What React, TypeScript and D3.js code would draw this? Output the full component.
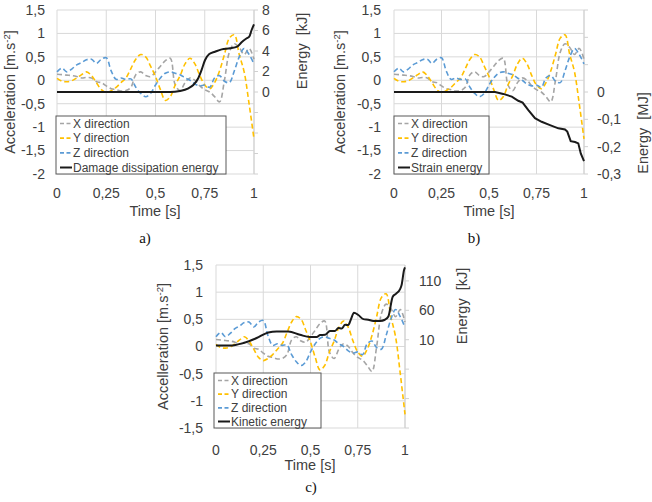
import * as d3 from "d3";
import { useEffect, useRef } from "react";

// Common time base of the three acceleration records [s]
const time = [
  0, 0.025, 0.05, 0.075, 0.1, 0.125, 0.15, 0.175, 0.2, 0.225, 0.25, 0.275, 0.3, 0.325,
  0.35, 0.375, 0.4, 0.425, 0.45, 0.475, 0.5, 0.525, 0.55, 0.575, 0.6, 0.625, 0.65, 0.675,
  0.7, 0.725, 0.75, 0.775, 0.8, 0.825, 0.85, 0.875, 0.9, 0.925, 0.95, 0.975, 1,
];

// Acceleration [m.s-2]
const accX = [
  0.13, 0.12, 0.11, 0.1, 0.08, 0.05, 0.06, 0.05, -0.03, -0.05, -0.12, -0.18, -0.2, -0.23,
  -0.22, -0.15, 0.12, 0.18, 0.1, 0.08, 0.18, 0.3, 0.42, 0.47, -0.1, -0.22, -0.05, 0.05,
  0.0, -0.12, -0.2, -0.25, -0.35, -0.46, 0.0, 0.6, 0.78, 0.7, 0.55, 0.68, 0.45,
];
const accY = [
  0.04, -0.02, -0.03, -0.01, 0.05, 0.12, 0.18, 0.1, -0.05, -0.2, -0.26, -0.22, -0.15, -0.05,
  0.05, 0.25, 0.45, 0.55, 0.5, 0.3, 0.08, -0.2, -0.43, -0.35, -0.1, 0.1, 0.35, 0.47,
  0.35, 0.1, -0.1, -0.18, -0.05, 0.2, 0.55, 0.9, 0.97, 0.55, 0.18, -0.5, -1.25,
];
const accZ = [
  0.18, 0.26, 0.18, 0.24, 0.33, 0.38, 0.44, 0.45, 0.36, 0.45, 0.48, 0.2, 0.02, 0.05,
  0.02, 0.03, -0.15, -0.28, -0.35, -0.28, -0.1, 0.05, 0.15, 0.18, 0.15, 0.12, 0.05, 0.0,
  -0.08, -0.12, -0.1, -0.15, 0.05, 0.1, -0.02, -0.05, 0.2, 0.5, 0.68, 0.55, 0.35,
];

// Damage dissipation energy [kJ]
const damageTime = [
  0, 0.2, 0.4, 0.574, 0.624, 0.667, 0.692, 0.717, 0.734, 0.751, 0.773, 0.802, 0.836,
  0.878, 0.915, 0.937, 0.963, 0.976, 0.988, 1,
];
const damageEnergy = [
  0, 0, 0, 0, 0.1, 0.36, 0.68, 1.34, 2.15, 3.1, 3.7, 3.93, 4.16, 4.26, 4.42, 4.85, 5.24,
  5.4, 6.05, 6.6,
];

// Strain energy [MJ]
const strainTime = [
  0, 0.532, 0.575, 0.62, 0.654, 0.677, 0.707, 0.742, 0.777, 0.821, 0.865, 0.9, 0.912,
  0.93, 0.953, 0.97, 0.983, 1,
];
const strainEnergy = [
  0, 0, -0.007, -0.017, -0.032, -0.039, -0.066, -0.096, -0.109, -0.121, -0.133, -0.137,
  -0.145, -0.18, -0.183, -0.188, -0.225, -0.253,
];

// Kinetic energy [kJ]
const kineticTime = [
  0, 0.074, 0.145, 0.215, 0.277, 0.321, 0.383, 0.444, 0.497, 0.533, 0.551, 0.577, 0.603,
  0.63, 0.647, 0.665, 0.683, 0.7, 0.713, 0.73, 0.753, 0.78, 0.806, 0.832, 0.868, 0.894,
  0.912, 0.935, 0.952, 0.974, 0.982, 0.995, 1,
];
const kineticEnergy = [
  0, 0, 4.4, 12.9, 22.4, 24, 24, 18.5, 14.6, 14.6, 18, 18.5, 25, 25, 29.8, 29, 35.4, 35,
  44, 56, 52, 45, 44, 42, 42, 44, 49.5, 83, 88, 96, 103, 128.6, 133,
];

// Axis ticks
const timeTicks = [0, 0.25, 0.5, 0.75, 1];
const accTicksAB = [-2, -1.5, -1, -0.5, 0, 0.5, 1, 1.5];
const accTicksC = [-1.5, -1, -0.5, 0, 0.5, 1, 1.5];
const damageTicks = [-8, -6, -4, -2, 0, 2, 4, 6, 8];
const damageLabels = [0, 2, 4, 6, 8];
const strainTicks = [-0.3, -0.2, -0.1, 0, 0.1, 0.2, 0.3];
const strainLabels = [-0.3, -0.2, -0.1, 0];
const kineticTicks = [-140, -90, -40, 10, 60, 110];
const kineticLabels = [10, 60, 110];

const seriesNames = ["X direction", "Y direction", "Z direction"];
const seriesColors = ["#a5a5a5", "#ffc000", "#5b9bd5"];

const FONT = "'Liberation Sans', Arial, sans-serif";
const TEXT = "#404040";

const fmt = (d: number) => String(d).replace(".", ",");

const panels = [
  {
    plot: { left: 57, right: 254, top: 10, bottom: 174 },
    accDomain: [-2, 1.5], accTicks: accTicksAB,
    eDomain: [-8, 8], eTicks: damageTicks, eLabels: damageLabels,
    eTime: damageTime, eValues: damageEnergy, eCurve: d3.curveMonotoneX,
    accTitle: "Acceleration", eTitle: "Energy  [kJ]",
    legendName: "Damage dissipation energy",
    legend: { x: 56, y: 116, w: 170, h: 58 },
    leftLabelX: 45, leftTitleX: 10, rightLabelX: 262, rightTitle: { x: 301.5, y: 51 },
    xLabelY: 198, timeTitle: { x: 155, y: 216 }, caption: { text: "a)", x: 145, y: 243 },
  },
  {
    plot: { left: 394, right: 584, top: 10, bottom: 174 },
    accDomain: [-2, 1.5], accTicks: accTicksAB,
    eDomain: [-0.3, 0.3], eTicks: strainTicks, eLabels: strainLabels,
    eTime: strainTime, eValues: strainEnergy, eCurve: d3.curveLinear,
    accTitle: "Acceleration", eTitle: "Energy  [MJ]",
    legendName: "Strain energy",
    legend: { x: 394, y: 116, w: 95, h: 58 },
    leftLabelX: 381, leftTitleX: 339.5, rightLabelX: 597, rightTitle: { x: 643, y: 133 },
    xLabelY: 198, timeTitle: { x: 489, y: 216 }, caption: { text: "b)", x: 474, y: 243 },
  },
  {
    plot: { left: 216, right: 405, top: 265, bottom: 428 },
    accDomain: [-1.5, 1.5], accTicks: accTicksC,
    eDomain: [-140, 137], eTicks: kineticTicks, eLabels: kineticLabels,
    eTime: kineticTime, eValues: kineticEnergy, eCurve: d3.curveMonotoneX,
    accTitle: "Accelleration", eTitle: "Energy  [kJ]",
    legendName: "Kinetic energy",
    legend: { x: 214, y: 373, w: 107, h: 55 },
    leftLabelX: 203, leftTitleX: 163, rightLabelX: 419, rightTitle: { x: 461.5, y: 306 },
    xLabelY: 455, timeTitle: { x: 310, y: 470 }, caption: { text: "c)", x: 311, y: 492 },
  },
];

const Panel = ({ cfg }: { cfg: any }) => {
  const ref = useRef<SVGGElement>(null);

  useEffect(() => {
    const g = d3.select(ref.current);
    g.selectAll("*").remove();
    const { left, right, top, bottom } = cfg.plot;

    const x = d3.scaleLinear().domain([0, 1]).range([left, right]);
    const y = d3.scaleLinear().domain(cfg.accDomain).range([bottom, top]);
    const yE = d3.scaleLinear().domain(cfg.eDomain).range([bottom, top]);

    // Gridlines
    g.append("g").selectAll("line").data(cfg.accTicks).join("line")
      .attr("x1", left).attr("x2", right)
      .attr("y1", (d: any) => y(d)).attr("y2", (d: any) => y(d))
      .attr("stroke", "#d9d9d9").attr("stroke-width", 1);
    g.append("g").selectAll("line").data(timeTicks).join("line")
      .attr("x1", d => x(d)).attr("x2", d => x(d))
      .attr("y1", top).attr("y2", bottom)
      .attr("stroke", "#d9d9d9").attr("stroke-width", 1);

    // Secondary axis line with outward ticks
    g.append("line")
      .attr("x1", right).attr("x2", right).attr("y1", top).attr("y2", bottom)
      .attr("stroke", "#d0d0d0");
    g.append("g").selectAll("line").data(cfg.eTicks).join("line")
      .attr("x1", right).attr("x2", right + 4)
      .attr("y1", (d: any) => yE(d)).attr("y2", (d: any) => yE(d))
      .attr("stroke", "#d0d0d0");

    // Tick labels
    g.append("g").selectAll("text").data(cfg.accTicks).join("text")
      .attr("x", cfg.leftLabelX).attr("y", (d: any) => y(d))
      .attr("dy", "0.35em").attr("text-anchor", "end")
      .text((d: any) => fmt(d));
    g.append("g").selectAll("text").data(cfg.eLabels).join("text")
      .attr("x", cfg.rightLabelX).attr("y", (d: any) => yE(d))
      .attr("dy", "0.35em").attr("text-anchor", "start")
      .text((d: any) => fmt(d));
    g.append("g").selectAll("text").data(timeTicks).join("text")
      .attr("x", d => x(d)).attr("y", cfg.xLabelY)
      .attr("text-anchor", "middle")
      .text(d => fmt(d));

    // Axis titles
    const accTitle = g.append("text")
      .attr("transform", `translate(${cfg.leftTitleX},${(top + bottom) / 2}) rotate(-90)`)
      .attr("dy", "0.35em").attr("text-anchor", "middle")
      .style("font-size", "14.5px");
    accTitle.append("tspan").text(`${cfg.accTitle} [m.s`);
    accTitle.append("tspan").attr("dy", "-5").style("font-size", "9.5px").text("-2");
    accTitle.append("tspan").attr("dy", "5").text("]");

    g.append("text")
      .attr("transform", `translate(${cfg.rightTitle.x},${cfg.rightTitle.y}) rotate(-90)`)
      .attr("dy", "0.35em").attr("text-anchor", "middle")
      .style("font-size", "14.5px").style("white-space", "pre")
      .text(cfg.eTitle);

    g.append("text")
      .attr("x", cfg.timeTitle.x).attr("y", cfg.timeTitle.y)
      .attr("text-anchor", "middle").style("font-size", "14.5px")
      .text("Time [s]");

    g.append("text")
      .attr("x", cfg.caption.x).attr("y", cfg.caption.y)
      .attr("text-anchor", "middle")
      .style("font-family", "'Liberation Serif', 'Times New Roman', serif")
      .style("font-size", "15px").attr("fill", "#111")
      .text(cfg.caption.text);

    // Acceleration records
    const accLine = d3.line<number>()
      .x((_, i) => x(time[i]))
      .y(d => y(d))
      .curve(d3.curveCatmullRom.alpha(0.5));
    [accX, accY, accZ].forEach((s, i) => {
      g.append("path")
        .attr("d", accLine(s))
        .attr("fill", "none")
        .attr("stroke", seriesColors[i])
        .attr("stroke-width", 1.6)
        .attr("stroke-dasharray", "5,3");
    });

    // Energy on the secondary axis
    const eLine = d3.line<number>()
      .x((_, i) => x(cfg.eTime[i]))
      .y(d => yE(d))
      .curve(cfg.eCurve);
    g.append("path")
      .attr("d", eLine(cfg.eValues))
      .attr("fill", "none")
      .attr("stroke", "#1a1a1a")
      .attr("stroke-width", 2);

    // Legend
    const lg = cfg.legend;
    const leg = g.append("g");
    leg.append("rect")
      .attr("x", lg.x).attr("y", lg.y).attr("width", lg.w).attr("height", lg.h)
      .attr("fill", "#fff").attr("stroke", "#595959").attr("stroke-width", 1);
    const items = [
      ...seriesNames.map((n, i) => ({ name: n, color: seriesColors[i], dash: "4,2.5", w: 1.6 })),
      { name: cfg.legendName, color: "#1a1a1a", dash: null, w: 2 },
    ];
    const step = (lg.h - 14) / 3;
    items.forEach((it, i) => {
      const cy = lg.y + 7.5 + i * step;
      leg.append("line")
        .attr("x1", lg.x + 4).attr("x2", lg.x + 16).attr("y1", cy).attr("y2", cy)
        .attr("stroke", it.color).attr("stroke-width", it.w)
        .attr("stroke-dasharray", it.dash);
      leg.append("text")
        .attr("x", lg.x + 17).attr("y", cy).attr("dy", "0.35em")
        .style("font-size", "12px")
        .text(it.name);
    });
  }, [cfg]);

  return <g ref={ref} />;
};

export default function App() {
  return (
    <svg
      width={652}
      height={502}
      style={{ position: "absolute", left: 0, top: 0, background: "#fff" }}
      fontFamily={FONT}
      fontSize={14}
      fill={TEXT}
    >
      {panels.map((p, i) => (
        <Panel key={i} cfg={p} />
      ))}
    </svg>
  );
}
